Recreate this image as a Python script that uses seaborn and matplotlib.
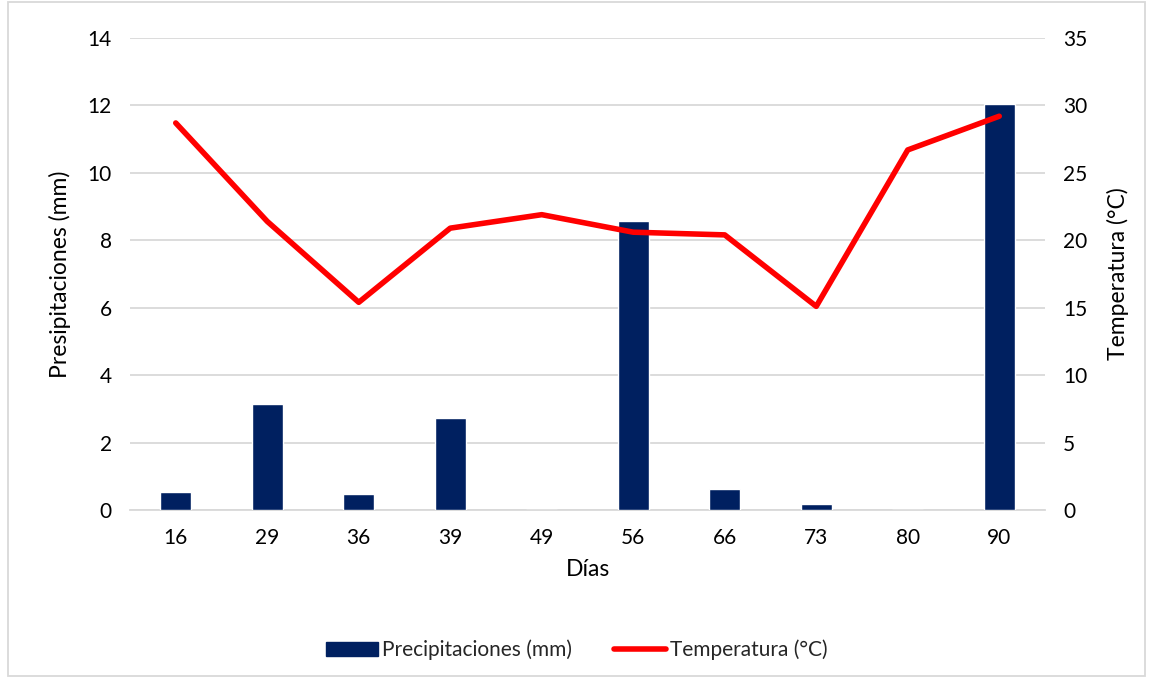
import pandas as pd
import seaborn as sb
import matplotlib.pyplot as plt
from matplotlib.patches import Rectangle
from matplotlib.lines import Line2D

dias = ['16', '29', '36', '39', '49', '56', '66', '73', '80', '90']
precipitaciones = [0.53, 3.15, 0.46, 2.74, 0.0, 8.58, 0.61, 0.17, 0.0, 12.05]
temperatura = [28.7, 21.4, 15.4, 20.9, 21.9, 20.6, 20.4, 15.1, 26.7, 29.2]

df = pd.DataFrame({'dia': dias, 'prec': precipitaciones, 'temp': temperatura})

sb.set_style('white')
plt.rcParams['font.family'] = ['Lato', 'DejaVu Sans']

fig = plt.figure(figsize=(11.53, 6.84), dpi=100)
ax = fig.add_axes([130 / 1153, 1 - 510 / 684, 915 / 1153, 472 / 684])

sb.barplot(x='dia', y='prec', data=df, color='#002060', width=0.34,
           saturation=1, ax=ax, zorder=3)
ax.set_ylim(0, 14)
ax.set_yticks(range(0, 15, 2))
ax.grid(axis='y', color='#d9d9d9', linewidth=1.3, zorder=0)
ax.set_axisbelow(True)
for s in ['top', 'left', 'right']:
    ax.spines[s].set_visible(False)
ax.spines['bottom'].set_color('#d9d9d9')
ax.spines['bottom'].set_linewidth(1.3)
ax.set_xlim(-0.5, 9.5)
ax.set_xlabel('Días', fontsize=16.5, color='black', labelpad=8)
ax.set_ylabel('Presipitaciones (mm)', fontsize=16.5, color='black', labelpad=12)
ax.tick_params(axis='both', labelsize=15, colors='black', length=0, pad=13)

ax2 = ax.twinx()
sb.lineplot(x=range(len(dias)), y=temperatura, color='#ff0000', linewidth=4,
            ax=ax2, solid_capstyle='round')
ax2.set_ylim(0, 35)
ax2.set_yticks(range(0, 36, 5))
for s in ['top', 'left', 'right', 'bottom']:
    ax2.spines[s].set_visible(False)
ax2.set_ylabel('Temperatura (°C)', fontsize=16.5, color='black', labelpad=14)
ax2.tick_params(axis='y', labelsize=15, colors='black', length=0, pad=13)

handles = [Rectangle((0, 0), 1, 1, color='#002060'),
           Line2D([0], [0], color='#ff0000', linewidth=4, solid_capstyle='round')]
fig.legend(handles, ['Precipitaciones (mm)', 'Temperatura (°C)'],
           loc='center', bbox_to_anchor=(0.5, 1 - 650 / 684), ncol=2,
           frameon=False, fontsize=15, handlelength=2.5, handletextpad=0.2,
           columnspacing=2.0)

fig.patches.append(Rectangle((8 / 1153, 8 / 684), 1 - 16 / 1153, 1 - 10 / 684,
                             transform=fig.transFigure, fill=False,
                             edgecolor='#d9d9d9', linewidth=1.3))

plt.savefig('out.png')
